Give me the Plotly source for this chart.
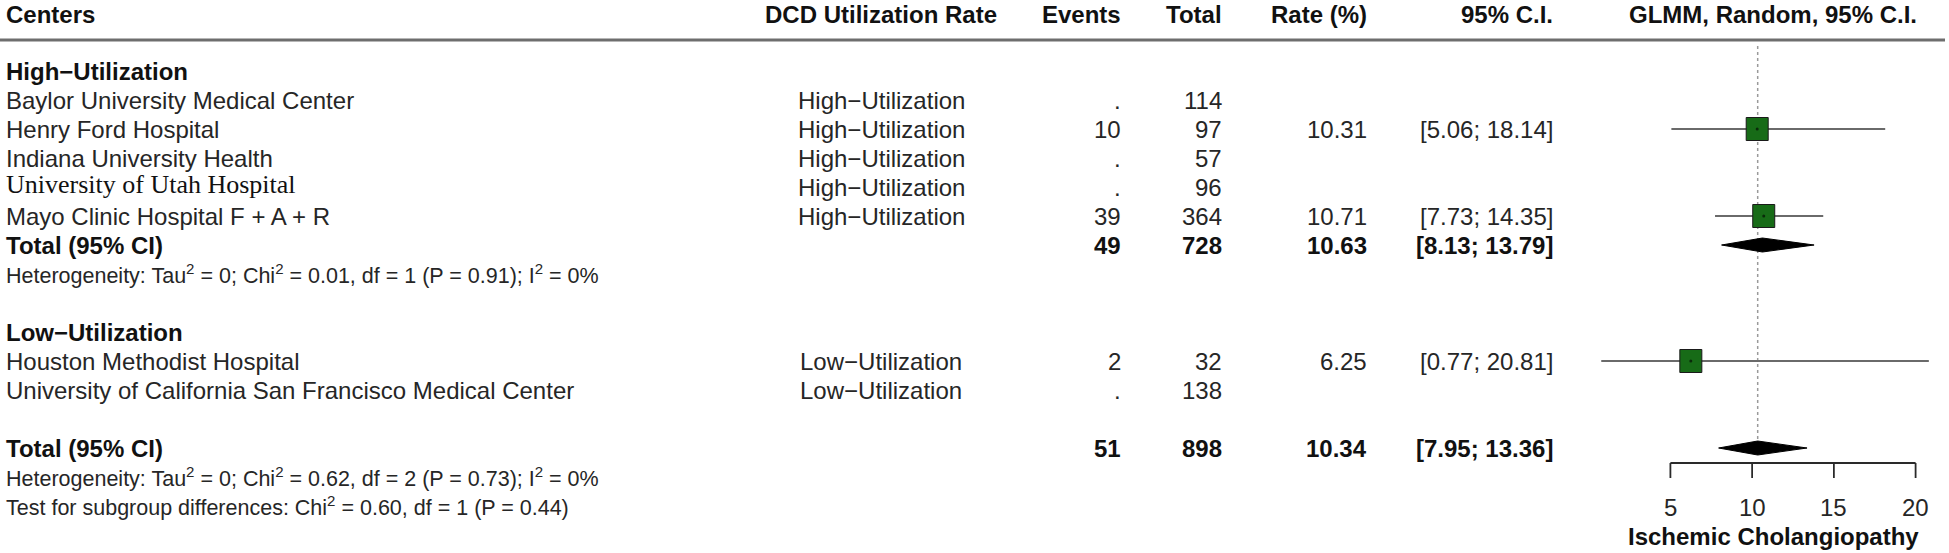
import plotly.graph_objects as go

# ---------------- data ----------------
group_labels = ["High\u2212Utilization", "Low\u2212Utilization"]
centers = ["Baylor University Medical Center", "Henry Ford Hospital", "Indiana University Health",
           "University of Utah Hospital", "Mayo Clinic Hospital F + A + R",
           "Houston Methodist Hospital", "University of California San Francisco Medical Center"]
dcd_rate = ["High\u2212Utilization"] * 5 + ["Low\u2212Utilization"] * 2
events = [None, 10, None, None, 39, 2, None]
totals = [114, 97, 57, 96, 364, 32, 138]
rates = [None, 10.31, None, None, 10.71, 6.25, None]
ci_low = [None, 5.06, None, None, 7.73, 0.77, None]
ci_high = [None, 18.14, None, None, 14.35, 20.81, None]

sum_labels = ["Total (95% CI)", "Total (95% CI)"]
sum_events = [49, 51]
sum_totals = [728, 898]
sum_rates = [10.63, 10.34]
sum_low = [8.13, 7.95]
sum_high = [13.79, 13.36]
het_texts = ["Heterogeneity: Tau<sup>2</sup> = 0; Chi<sup>2</sup> = 0.01, df = 1 (P = 0.91); I<sup>2</sup> = 0%",
             "Heterogeneity: Tau<sup>2</sup> = 0; Chi<sup>2</sup> = 0.62, df = 2 (P = 0.73); I<sup>2</sup> = 0%"]
subgroup_test = "Test for subgroup differences: Chi<sup>2</sup> = 0.60, df = 1 (P = 0.44)"

headers = ["Centers", "DCD Utilization Rate", "Events", "Total", "Rate (%)", "95% C.I.", "GLMM, Random, 95% C.I."]
axis_ticks = [5, 10, 15, 20]
axis_title = "Ischemic Cholangiopathy"

# ---------------- layout geometry ----------------
W, H = 1949, 553
TICK5_PX, TICK20_PX = 1670.4, 1915.6
PX = (TICK20_PX - TICK5_PX) / 15.0          # pixels per unit on forest scale
x_lo = 5 - TICK5_PX / PX
x_hi = 20 + (W - TICK20_PX) / PX
ROW_PX = 29.0
ROW0 = 42.0
y_top = -ROW0 / ROW_PX
y_bot = (H - ROW0) / ROW_PX

def r_of_px(py):
    return (py - ROW0) / ROW_PX

# row layout
group_rows = [1, 10]
center_rows = [2, 3, 4, 5, 6, 11, 12]
sum_rows = [7, 14]
het_rows = [8, 15]
test_row = 16

# column pixel positions
col_center_left = 4
col_dcd_center = 881
col_events_right = 1123
col_total_right = 1224
col_rate_right = 1369
col_ci_right = 1555
col_glmm_center = 1773

FONT = "Liberation Sans, Arial, sans-serif"
FS = 24
TXT = "#262626"
HDR = "#111111"
fig = go.Figure()
ann = []

def add_text(px, row, text, anchor="left", bold=False, size=FS, family=FONT, color=TXT, yshift=0):
    ann.append(dict(x=px / W, xref="paper", y=row, yref="y", text=("<b>%s</b>" % text) if bold else text,
                    showarrow=False, xanchor=anchor, yanchor="middle", yshift=yshift,
                    font=dict(family=family, size=size, color=color)))

# headers
hdr_row = r_of_px(14)
add_text(col_center_left, hdr_row, headers[0], "left", True, color=HDR)
add_text(col_dcd_center, hdr_row, headers[1], "center", True, color=HDR)
add_text(col_events_right, hdr_row, headers[2], "right", True, color=HDR)
add_text(col_total_right, hdr_row, headers[3], "right", True, color=HDR)
add_text(col_rate_right, hdr_row, headers[4], "right", True, color=HDR)
add_text(col_ci_right, hdr_row, headers[5], "right", True, color=HDR)
add_text(col_glmm_center, hdr_row, headers[6], "center", True, color=HDR)

# group labels
for g, r in zip(group_labels, group_rows):
    add_text(col_center_left, r, g, "left", True, color=HDR)

# study rows
for i, r in enumerate(center_rows):
    if i == 3:
        add_text(col_center_left, r, centers[i], "left", family="Liberation Serif, Times New Roman, serif",
                 size=26, color="#111111", yshift=3)
    else:
        add_text(col_center_left, r, centers[i], "left")
    add_text(col_dcd_center, r, dcd_rate[i], "center")
    add_text(col_events_right, r, "." if events[i] is None else str(events[i]), "right")
    add_text(col_total_right, r, str(totals[i]), "right")
    if rates[i] is not None:
        add_text(col_rate_right, r, "%.2f" % rates[i], "right")
        add_text(col_ci_right, r, "[%.2f; %.2f]" % (ci_low[i], ci_high[i]), "right")

# summary rows
for k, r in enumerate(sum_rows):
    add_text(col_center_left, r, sum_labels[k], "left", True, color=HDR)
    add_text(col_events_right, r, str(sum_events[k]), "right", True, color=HDR)
    add_text(col_total_right, r, str(sum_totals[k]), "right", True, color=HDR)
    add_text(col_rate_right, r, "%.2f" % sum_rates[k], "right", True, color=HDR)
    add_text(col_ci_right, r, "[%.2f; %.2f]" % (sum_low[k], sum_high[k]), "right", True, color=HDR)

for t, r in zip(het_texts, het_rows):
    add_text(col_center_left, r, t, "left", size=21.5)
add_text(col_center_left, test_row, subgroup_test, "left", size=21.5)

# header rule
shapes = [dict(type="line", xref="paper", yref="y", x0=0, x1=1945 / W, y0=r_of_px(40), y1=r_of_px(40),
               line=dict(color="#6e6e6e", width=3))]

# reference (overall) dotted line
fig.add_trace(go.Scatter(x=[sum_rates[-1], sum_rates[-1]], y=[r_of_px(46), sum_rows[-1]],
                         mode="lines", line=dict(color="#9a9a9a", width=1.5, dash="dot"),
                         hoverinfo="skip", showlegend=False))

# CI lines and squares
half_w = 11.0 / PX
half_h = 11.5 / ROW_PX
for i, r in enumerate(center_rows):
    if rates[i] is None:
        continue
    fig.add_trace(go.Scatter(x=[ci_low[i], ci_high[i]], y=[r, r], mode="lines",
                             line=dict(color="#6a6a6a", width=2.2), hoverinfo="skip", showlegend=False))
    xs = [rates[i] - half_w, rates[i] + half_w, rates[i] + half_w, rates[i] - half_w, rates[i] - half_w]
    ys = [r - half_h, r - half_h, r + half_h, r + half_h, r - half_h]
    fig.add_trace(go.Scatter(x=xs, y=ys, mode="lines", fill="toself", fillcolor="#176b17",
                             line=dict(color="#1a1a1a", width=1), hoverinfo="skip", showlegend=False))
    fig.add_trace(go.Scatter(x=[rates[i]], y=[r], mode="markers", marker=dict(color="#0a2a0a", size=3),
                             hoverinfo="skip", showlegend=False))

# diamonds
dh = 7 / ROW_PX
for k, r in enumerate(sum_rows):
    xs = [sum_low[k], sum_rates[k], sum_high[k], sum_rates[k], sum_low[k]]
    ys = [r, r - dh, r, r + dh, r]
    fig.add_trace(go.Scatter(x=xs, y=ys, mode="lines", fill="toself", fillcolor="#000000",
                             line=dict(color="#000000", width=1), hoverinfo="skip", showlegend=False))

# manual x axis
ax_r = r_of_px(463)
tick_r = r_of_px(478)
fig.add_trace(go.Scatter(x=[axis_ticks[0], axis_ticks[-1]], y=[ax_r, ax_r], mode="lines",
                         line=dict(color="#2a2a2a", width=1.8), hoverinfo="skip", showlegend=False))
for t in axis_ticks:
    fig.add_trace(go.Scatter(x=[t, t], y=[ax_r, tick_r], mode="lines",
                             line=dict(color="#2a2a2a", width=1.8), hoverinfo="skip", showlegend=False))
    ann.append(dict(x=t, xref="x", y=r_of_px(507), yref="y", text=str(t), showarrow=False,
                    xanchor="center", yanchor="middle", font=dict(family=FONT, size=FS, color=TXT)))
ann.append(dict(x=col_glmm_center / W, xref="paper", y=r_of_px(536), yref="y",
                text="<b>%s</b>" % axis_title, showarrow=False, xanchor="center", yanchor="middle",
                font=dict(family=FONT, size=FS, color=HDR)))

fig.update_layout(
    width=W, height=H, autosize=False,
    margin=dict(l=0, r=0, t=0, b=0),
    paper_bgcolor="white", plot_bgcolor="white",
    xaxis=dict(range=[x_lo, x_hi], visible=False, fixedrange=True),
    yaxis=dict(range=[y_bot, y_top], visible=False, fixedrange=True),
    annotations=ann, shapes=shapes, showlegend=False,
)
fig.write_html("out.html", config={"displayModeBar": False},
               post_script="document.body.style.margin='0px';document.body.style.overflow='hidden';")
